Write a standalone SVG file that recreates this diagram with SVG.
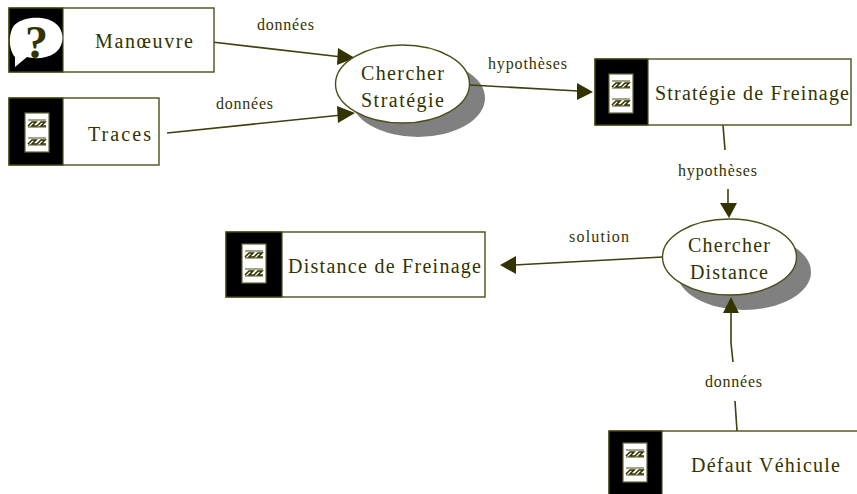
<svg xmlns="http://www.w3.org/2000/svg" width="857" height="494" viewBox="0 0 857 494">
  <style>
    .box{fill:#fff;stroke:#4d4d1a;stroke-width:1.4}
    .band{fill:#000;stroke:#4d4d1a;stroke-width:1.2}
    .paper{fill:#fff;stroke:#66663a;stroke-width:1.2}
    .rule{fill:none;stroke:#4d4d1a;stroke-width:1.2}
    .zz{fill:none;stroke:#333300;stroke-width:1.6}
    .ell{fill:#fff;stroke:#4d4d1a;stroke-width:1.4}
    .shadow{fill:#808080}
    .conn{fill:none;stroke:#3f3f10;stroke-width:1.6}
    .head{fill:#333300}
    text{font-family:"Liberation Serif","Times New Roman",serif;fill:#333300}
    .t{font-size:20px}
    .l{font-size:16px}
  </style>
  <defs>
    <g id="doc">
      <rect class="paper" x="0" y="0" width="24" height="39"/>
      <path class="rule" d="M3 7H21M3 14H21M3 25H21M3 32H21"/>
      <path class="zz" d="M3 13L7 9H11L7 13H12L16 9H20L16 13H21M3 31L7 27H11L7 31H12L16 27H20L16 31H21"/>
    </g>
  </defs>

  <g id="shadows">
    <ellipse class="shadow" cx="418" cy="98" rx="67" ry="39"/>
    <ellipse class="shadow" cx="744" cy="272" rx="67" ry="38"/>
  </g>

  <g id="connectors">
    <path class="conn" d="M212 42L342 57"/>
    <path class="head" d="M338 48L355 58L337 65Z"/>
    <path class="conn" d="M167 133L342 115"/>
    <path class="head" d="M337 106L355 113L338 123Z"/>
    <path class="conn" d="M470 85L578 91"/>
    <path class="head" d="M577 83L593 92L577 100Z"/>
    <path class="conn" d="M723 125L725 150"/>
    <path class="conn" d="M728 189V205"/>
    <path class="head" d="M720 203H737L729 218Z"/>
    <path class="conn" d="M663 257L514 265"/>
    <path class="head" d="M500 265L516 256V274Z"/>
    <path class="conn" d="M731 312V343L733 362"/>
    <path class="head" d="M731 297L739 313H723Z"/>
    <path class="conn" d="M735 401L737 431"/>
  </g>

  <g id="node-manoeuvre">
    <rect class="box" x="9" y="8" width="205" height="64"/>
    <rect class="band" x="9" y="8" width="54" height="64"/>
    <path d="M15 57C7 48 9 27 17 23C27 16 46 16 55 23C65 30 65 46 55 53C46 59 34 59 27 57L15 67Z" fill="#fff"/>
    <text x="25" y="58" font-size="46" font-weight="bold" style="fill:#333300">?</text>
    <text x="95" y="48" class="t" textLength="98" lengthAdjust="spacing">Manœuvre</text>
  </g>

  <g id="node-traces">
    <rect class="box" x="9" y="98" width="150" height="67"/>
    <rect class="band" x="9" y="98" width="54" height="67"/>
    <use href="#doc" x="25" y="113"/>
    <text x="88" y="141" class="t" textLength="63" lengthAdjust="spacing">Traces</text>
  </g>

  <g id="node-chercher-strategie">
    <ellipse class="ell" cx="402.500" cy="84" rx="67" ry="39"/>
    <text x="361" y="80" class="t" textLength="83" lengthAdjust="spacing">Chercher</text>
    <text x="361" y="107" class="t" textLength="83" lengthAdjust="spacing">Stratégie</text>
  </g>

  <g id="node-strategie-freinage">
    <rect class="box" x="595" y="59" width="256" height="66"/>
    <rect class="band" x="595" y="59" width="53" height="66"/>
    <use href="#doc" x="609" y="74"/>
    <text x="655" y="100" class="t" textLength="194" lengthAdjust="spacing">Stratégie de Freinage</text>
  </g>

  <g id="node-chercher-distance">
    <ellipse class="ell" cx="729.500" cy="257" rx="67" ry="38"/>
    <text x="688" y="252" class="t" textLength="82" lengthAdjust="spacing">Chercher</text>
    <text x="690" y="279" class="t" textLength="78" lengthAdjust="spacing">Distance</text>
  </g>

  <g id="node-distance-freinage">
    <rect class="box" x="226" y="232" width="259" height="65"/>
    <rect class="band" x="226" y="232" width="56" height="65"/>
    <use href="#doc" x="242" y="244"/>
    <text x="288" y="273" class="t" textLength="193" lengthAdjust="spacing">Distance de Freinage</text>
  </g>

  <g id="node-defaut-vehicule">
    <rect class="box" x="609" y="431" width="260" height="80"/>
    <rect class="band" x="609" y="431" width="53" height="80"/>
    <use href="#doc" x="623" y="443"/>
    <text x="691" y="472" class="t" textLength="149" lengthAdjust="spacing">Défaut Véhicule</text>
  </g>

  <g id="labels">
    <text x="257" y="30" class="l" textLength="57" lengthAdjust="spacing">données</text>
    <text x="216" y="109" class="l" textLength="57" lengthAdjust="spacing">données</text>
    <text x="488" y="69" class="l" textLength="79" lengthAdjust="spacing">hypothèses</text>
    <text x="678" y="176" class="l" textLength="79" lengthAdjust="spacing">hypothèses</text>
    <text x="569" y="242" class="l" textLength="60" lengthAdjust="spacing">solution</text>
    <text x="705" y="387" class="l" textLength="57" lengthAdjust="spacing">données</text>
  </g>
</svg>
